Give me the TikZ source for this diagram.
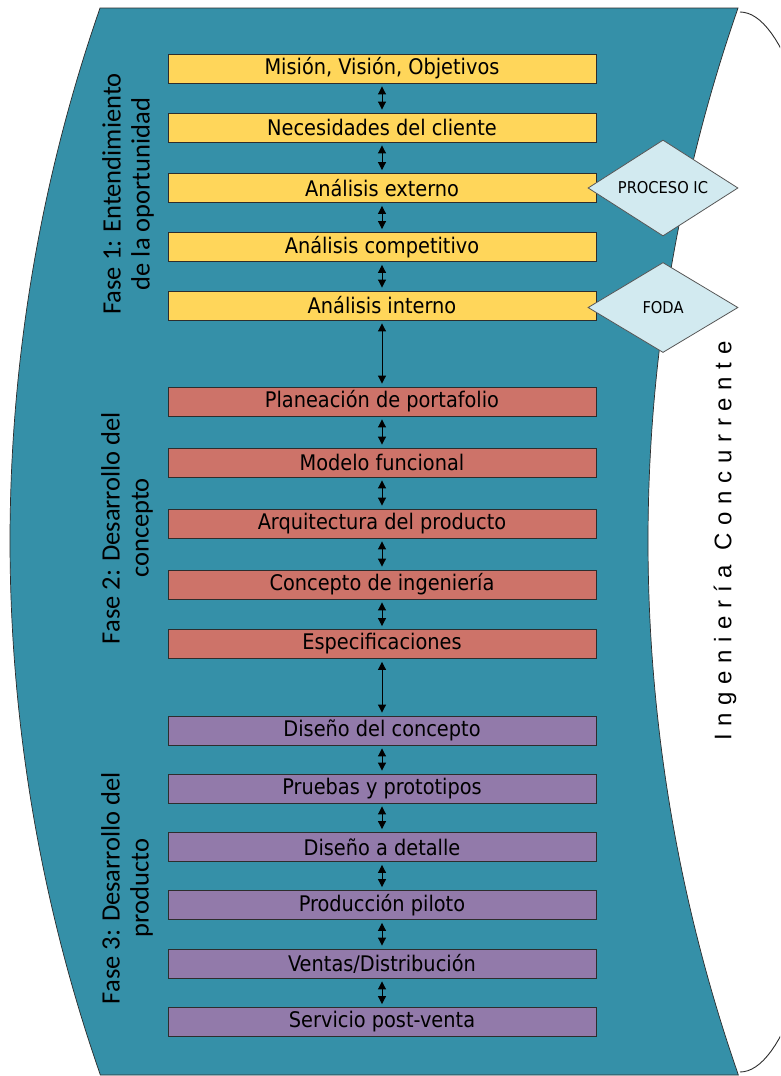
\documentclass[tikz,border=0pt]{standalone}
\usepackage{fontspec}
\usetikzlibrary{arrows.meta,shapes.geometric}
\setmainfont{DejaVu Sans Condensed}
\newfontfamily\boxfont{DejaVu Sans Condensed}
\newfontfamily\phasefont{Carlito}
\newfontfamily\ingfont[LetterSpace=32]{Liberation Sans}

\definecolor{band}{RGB}{53,144,168}
\definecolor{fase1}{RGB}{255,214,90}
\definecolor{fase2}{RGB}{205,115,105}
\definecolor{fase3}{RGB}{146,122,170}
\definecolor{rombo}{RGB}{210,234,240}
\definecolor{borde}{RGB}{45,45,45}

\tikzset{
  stage/.style={draw=borde, line width=0.9pt, minimum width=428pt, minimum height=29pt,
    inner sep=0pt, font=\boxfont\fontsize{21.5}{24}\selectfont},
  yel/.style={stage, fill=fase1},
  red/.style={stage, fill=fase2},
  pur/.style={stage, fill=fase3},
  dbl/.style={{Triangle[width=8pt,length=8pt]}-{Triangle[width=8pt,length=8pt]}, line width=1pt, black},
  rombonode/.style={shape=diamond, shape aspect=1.56, draw=borde!80, line width=0.8pt, fill=rombo,
    inner sep=0pt, minimum width=150pt, font=\boxfont\fontsize{16.3}{19}\selectfont},
  phase/.style={rotate=90, align=center, font=\phasefont\fontsize{26.5}{29}\selectfont}
}

\begin{document}
\begin{tikzpicture}[x=1pt, y=-1pt]
\path[use as bounding box, clip] (0,0) rectangle (780,1076);
\fill[white] (0,0) rectangle (780,1076);

% right bracket
\draw[borde, line width=0.9pt] plot[domain=-90:90, samples=90, variable=\t]
  ({740+112*cos(\t)}, {542+530*sin(\t)});

% curved band
\filldraw[fill=band, draw=borde, line width=0.7pt] (101,8) -- (738,8)
  -- plot[domain=8:1075, samples=90, variable=\t] ({2271-100*sqrt(263.41-((\t-541)/100)^2)}, \t)
  -- (100,1075)
  -- plot[domain=1075:8, samples=90, variable=\t] ({1633-100*sqrt(263.41-((\t-541)/100)^2)}, \t)
  -- cycle;

% phase 1
\node[yel] (y1) at (382,68.5)  {Misión, Visión, Objetivos};
\node[yel] (y2) at (382,127.5) {Necesidades del cliente};
\node[yel] (y3) at (382,188)   {Análisis externo};
\node[yel] (y4) at (382,247)   {Análisis competitivo};
\node[yel] (y5) at (382,305.5) {Análisis interno};

% phase 2
\node[red] (r1) at (382,401.5) {Planeación de portafolio};
\node[red] (r2) at (382,462.5) {Modelo funcional};
\node[red] (r3) at (382,523.5) {Arquitectura del producto};
\node[red] (r4) at (382,584.5) {Concepto de ingeniería};
\node[red] (r5) at (382,644)   {Especificaciones};

% phase 3
\node[pur] (p1) at (382,730.5) {Diseño del concepto};
\node[pur] (p2) at (382,788.5) {Pruebas y prototipos};
\node[pur] (p3) at (382,847)   {Diseño a detalle};
\node[pur] (p4) at (382,905)   {Producción piloto};
\node[pur] (p5) at (382,963.5) {Ventas/Distribución};
\node[pur] (p6) at (382,1022)  {Servicio post-venta};

% links between stages
\foreach \a/\b in {y1/y2,y2/y3,y3/y4,y4/y5,y5/r1,r1/r2,r2/r3,r3/r4,r4/r5,r5/p1,p1/p2,p2/p3,p3/p4,p4/p5,p5/p6}
  \draw[dbl] ([yshift=-3pt]\a.south) -- ([yshift=3pt]\b.north);

% side diamonds
\node[rombonode, minimum height=96pt] (ic) at (663,188) {PROCESO IC};
\node[rombonode, minimum height=90pt] (foda) at (663,307.5) {FODA};

% phase labels
\node[phase] (f1) at (128,194) {Fase 1: Entendimiento\\de la oportunidad};
\node[phase] (f2) at (127,528) {Fase 2: Desarrollo del\\concepto};
\node[phase] (f3) at (127,888) {Fase 3: Desarrollo del\\producto};

% side title
\node[rotate=90, font=\ingfont\fontsize{24}{28}\selectfont] (ing) at (725,541) {Ingeniería Concurrente};
\end{tikzpicture}
\end{document}
